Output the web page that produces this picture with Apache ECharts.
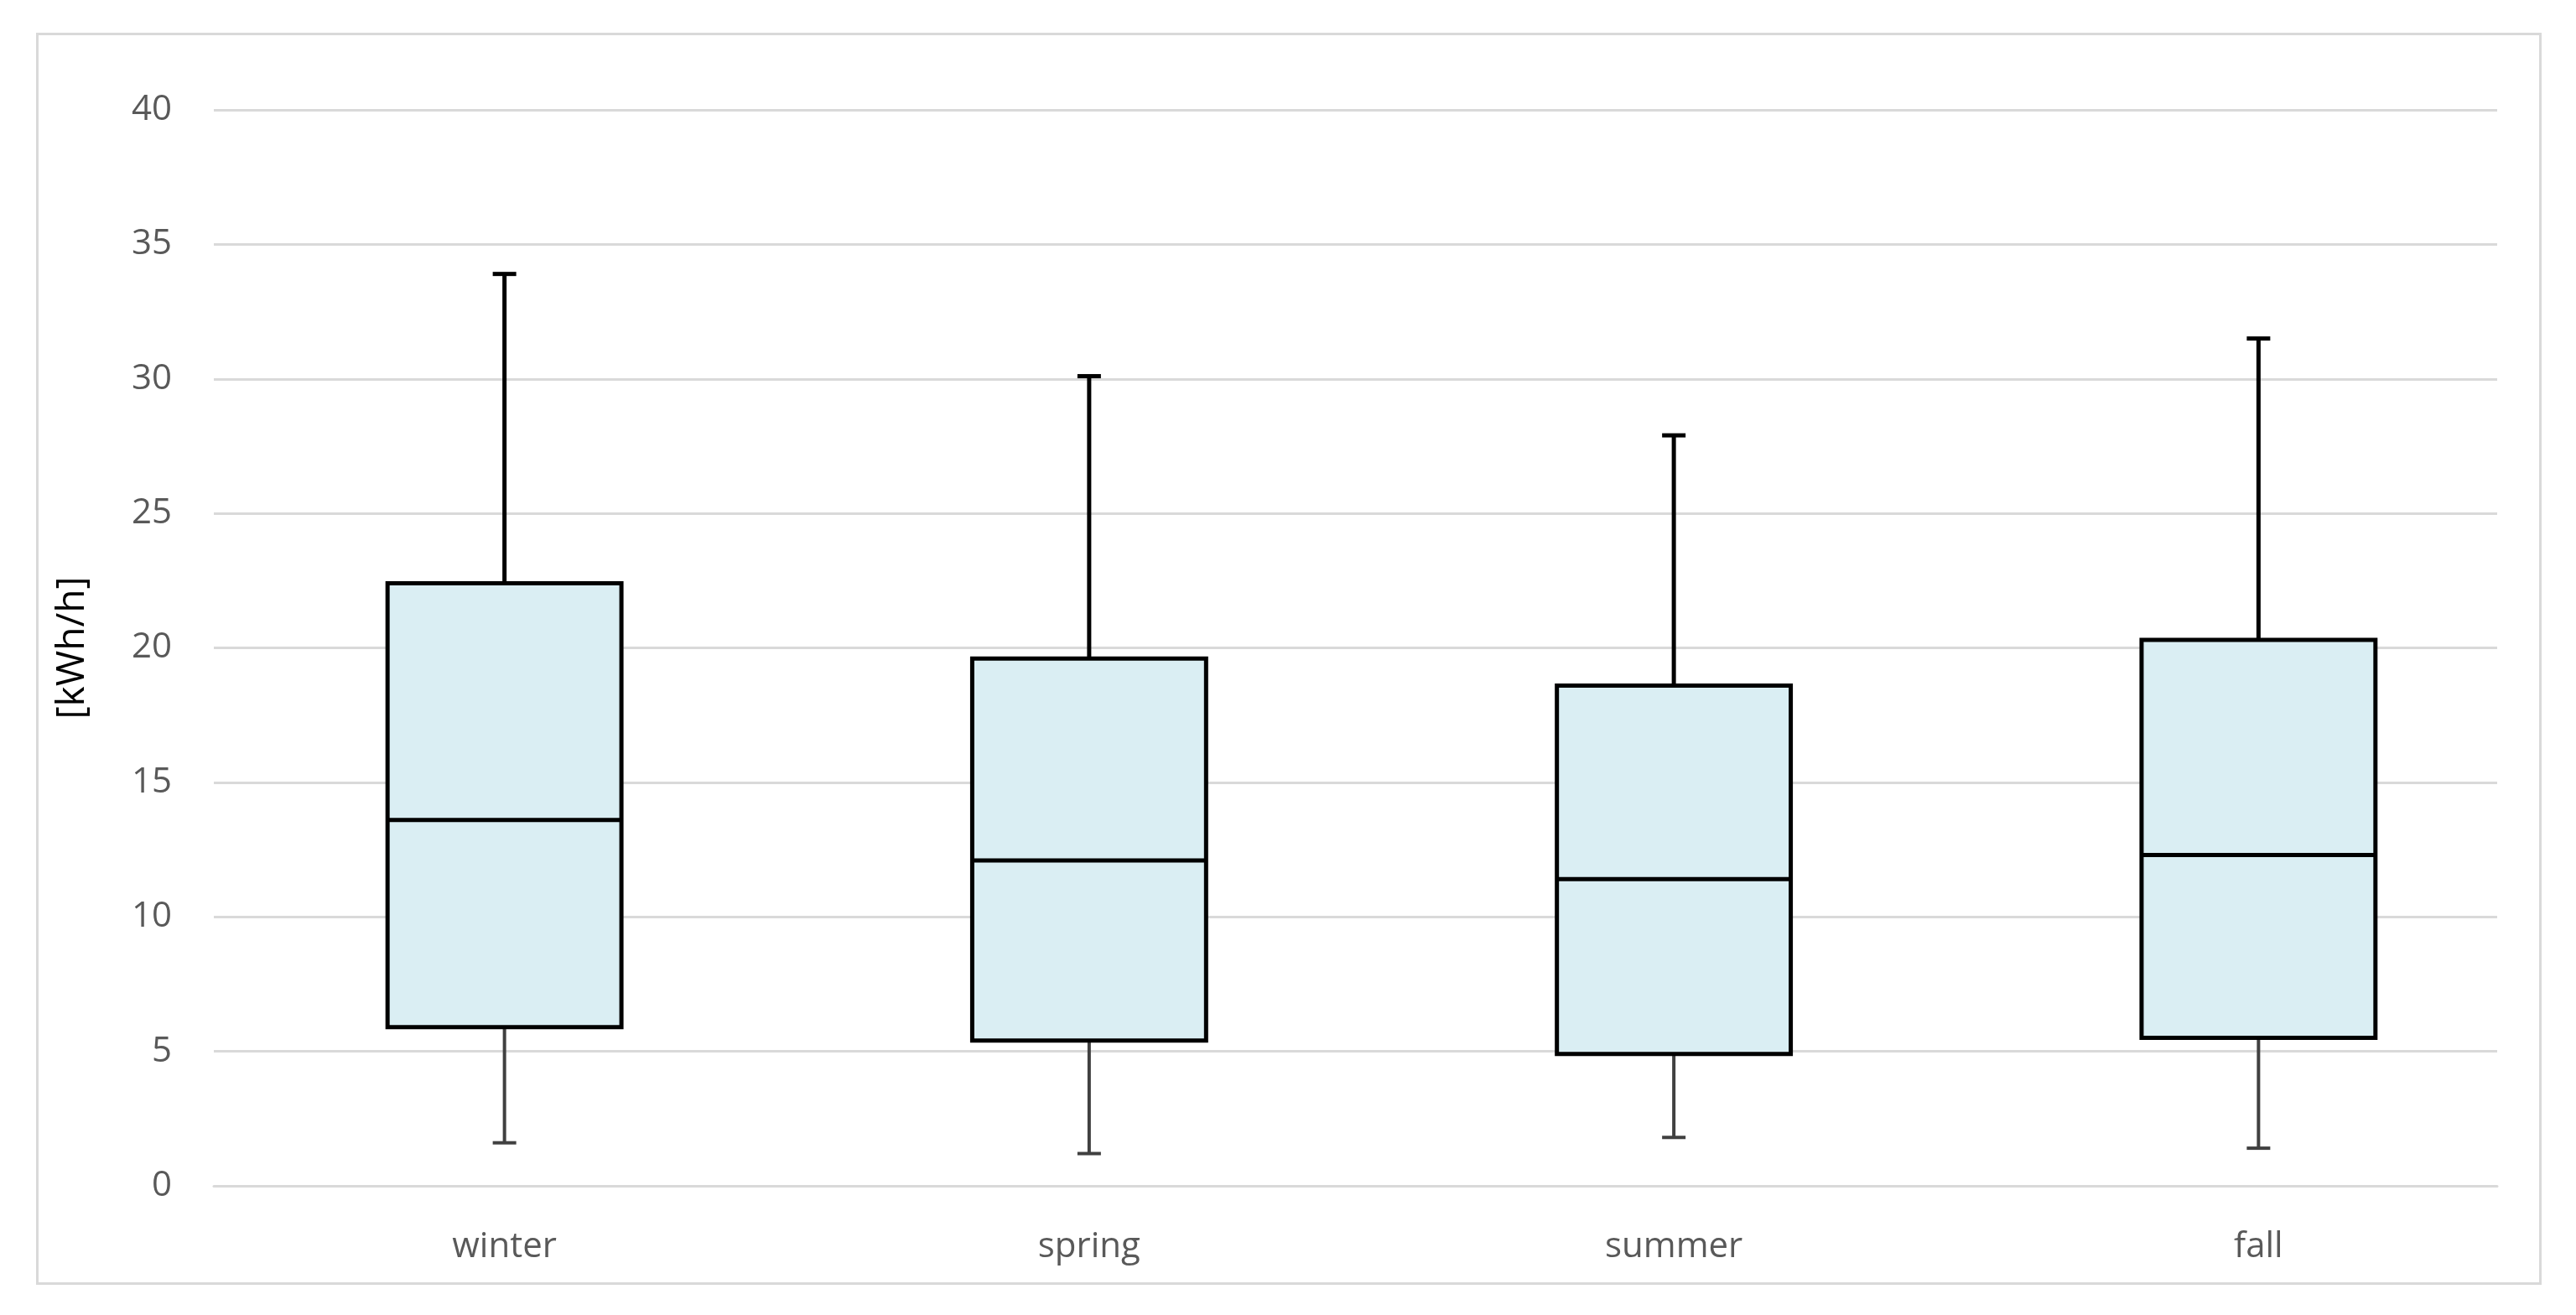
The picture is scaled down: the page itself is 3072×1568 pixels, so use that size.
<!DOCTYPE html>
<html>
<head>
<meta charset="utf-8">
<script src="https://cdn.jsdelivr.net/npm/echarts@6/dist/echarts.min.js"></script>
<style>
html,body{margin:0;padding:0;background:#fff;}
#frame{position:absolute;left:43px;top:39px;width:2982px;height:1487px;border:3px solid #d9d9d9;}
#chart{position:absolute;left:0;top:0;width:3072px;height:1568px;}
</style>
</head>
<body>
<div id="frame"></div>
<div id="chart"></div>
<script>
// 季节箱线图数据
var seasons = ["winter", "spring", "summer", "fall"];
var minVals = [1.6, 1.2, 1.8, 1.4];
var q1Vals = [5.9, 5.4, 4.9, 5.5];
var medVals = [13.6, 12.1, 11.4, 12.3];
var q3Vals = [22.4, 19.6, 18.6, 20.3];
var maxVals = [33.9, 30.1, 27.9, 31.5];

var rows = seasons.map(function (s, i) {
    return [i, minVals[i], q1Vals[i], medVals[i], q3Vals[i], maxVals[i]];
});

function renderBox(params, api) {
    var x = api.value(0);
    var pMin = api.coord([x, api.value(1)]);
    var pQ1 = api.coord([x, api.value(2)]);
    var pMed = api.coord([x, api.value(3)]);
    var pQ3 = api.coord([x, api.value(4)]);
    var pMax = api.coord([x, api.value(5)]);
    var w = api.size([1, 0])[0] * 0.40;
    var cx = pMed[0];
    var cap = 14;
    var st = { stroke: "#000", lineWidth: 5 };
    var stLow = { stroke: "#404040", lineWidth: 4 };
    return {
        type: "group",
        children: [
            { type: "line", shape: { x1: cx, y1: pQ3[1], x2: cx, y2: pMax[1] }, style: st },
            { type: "line", shape: { x1: cx - cap, y1: pMax[1], x2: cx + cap, y2: pMax[1] }, style: st },
            { type: "line", shape: { x1: cx, y1: pQ1[1], x2: cx, y2: pMin[1] }, style: stLow },
            { type: "line", shape: { x1: cx - cap, y1: pMin[1], x2: cx + cap, y2: pMin[1] }, style: stLow },
            { type: "rect", shape: { x: cx - w / 2, y: pQ3[1], width: w, height: pQ1[1] - pQ3[1] },
              style: { fill: "#DAEEF3", stroke: "#000", lineWidth: 5 } },
            { type: "line", shape: { x1: cx - w / 2, y1: pMed[1], x2: cx + w / 2, y2: pMed[1] }, style: st }
        ]
    };
}

var myChart = echarts.init(document.getElementById("chart"));
myChart.setOption({
    animation: false,
    grid: [
        { left: 255, right: 94, top: 131, bottom: 154 },
        { left: 253, right: 30, top: 131, bottom: 154 }
    ],
    xAxis: [{
        type: "value",
        gridIndex: 0,
        min: 0, max: 1,
        axisLine: { show: true, onZero: false, lineStyle: { color: "#d9d9d9", width: 3 } },
        axisTick: { show: false },
        axisLabel: { show: false },
        splitLine: { show: false }
    }, {
        type: "category",
        gridIndex: 1,
        data: seasons,
        axisLine: { show: false },
        axisTick: { show: false },
        axisLabel: { color: "#595959", fontSize: 42, margin: 52, fontFamily: "Open Sans" }
    }],
    yAxis: [{
        type: "value",
        gridIndex: 0,
        min: 0, max: 40, interval: 5,
        name: "[kWh/h]",
        nameLocation: "middle",
        nameGap: 145,
        nameTextStyle: { color: "#000", fontSize: 46, fontFamily: "Open Sans" },
        axisLine: { show: false },
        axisTick: { show: false },
        axisLabel: { color: "#595959", fontSize: 42, margin: 50, fontFamily: "Open Sans" },
        splitLine: { lineStyle: { color: "#d9d9d9", width: 3 } }
    }, {
        type: "value",
        gridIndex: 1,
        min: 0, max: 40, interval: 5,
        show: false
    }],
    series: [{
        type: "custom",
        xAxisIndex: 1,
        yAxisIndex: 1,
        renderItem: renderBox,
        encode: { x: 0, y: [1, 2, 3, 4, 5] },
        data: rows
    }]
});
window.addEventListener("resize", function () {
    myChart.resize();
});
</script>
</body>
</html>
